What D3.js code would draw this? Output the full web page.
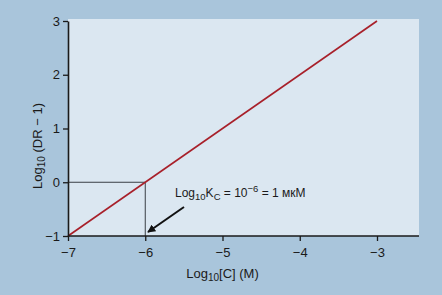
<!DOCTYPE html>
<html>
<head>
<meta charset="utf-8">
<script src="https://cdn.jsdelivr.net/npm/d3@7"></script>
<style>
  body { margin: 0; background: #a9c5db; }
  svg { display: block; }
  text { font-family: "Liberation Sans Narrow", "Liberation Sans", Arial, sans-serif; fill: #1a1a1a; }
</style>
</head>
<body>
<div id="chart"></div>
<script>
// log10 concentration vs log10(DR - 1), Schild plot
const logConc = [-7, -3];
const logDR = [-1, 3];
const xTicks = [-7, -6, -5, -4, -3];
const yTicks = [-1, 0, 1, 2, 3];
const kcPoint = [-6, 0];

const w = 442;
const h = 295;

const xScale = d3.scaleLinear().domain([-7, -3]).range([68, 377]);
const yScale = d3.scaleLinear().domain([-1, 3]).range([236, 21]);

const svg = d3.select("#chart")
  .append("svg")
  .attr("width", w)
  .attr("height", h);

// lighter plot panel
svg.append("rect")
  .attr("x", xScale(-7))
  .attr("y", 19)
  .attr("width", 419 - xScale(-7))
  .attr("height", yScale(-1) - 19)
  .attr("fill", "#dbe7f1");

// guide lines to the Kc point
svg.append("path")
  .attr("d", `M${xScale(-7)},${yScale(kcPoint[1])}H${xScale(kcPoint[0])}V${yScale(-1)}`)
  .attr("fill", "none")
  .attr("stroke", "#3a3f44")
  .attr("stroke-width", 1);

// regression line
const data = logConc.map((c, i) => [c, logDR[i]]);
svg.append("path")
  .datum(data)
  .attr("d", d3.line().x(d => xScale(d[0])).y(d => yScale(d[1])))
  .attr("fill", "none")
  .attr("stroke", "#a8202a")
  .attr("stroke-width", 1.6);

const fmt = d => d < 0 ? "\u2212" + Math.abs(d) : String(d);

const xAxis = d3.axisBottom(xScale).tickValues(xTicks).tickFormat(fmt).tickSize(5).tickSizeOuter(0);
const gx = svg.append("g")
  .attr("transform", `translate(0,${yScale(-1)})`)
  .call(xAxis);
gx.select(".domain").attr("d", `M${xScale(-7)},0H419`).attr("stroke", "#1a1a1a").attr("stroke-width", 1.6);
gx.selectAll(".tick line").attr("stroke", "#1a1a1a").attr("stroke-width", 1.3);
gx.selectAll(".tick text").attr("font-size", 13).attr("dy", "1em");

const yAxis = d3.axisLeft(yScale).tickValues(yTicks).tickFormat(fmt).tickSize(5).tickSizeOuter(0);
const gy = svg.append("g")
  .attr("transform", `translate(${xScale(-7)},0)`)
  .call(yAxis);
gy.select(".domain").attr("stroke", "#1a1a1a").attr("stroke-width", 1.6);
gy.selectAll(".tick line").attr("stroke", "#1a1a1a").attr("stroke-width", 1.3);
gy.selectAll(".tick text").attr("font-size", 13).attr("x", -8);
svg.selectAll(".tick text").attr("font-family", null);

// axis titles
const xt = svg.append("text")
  .attr("x", xScale(-5))
  .attr("y", 278)
  .attr("text-anchor", "middle")
  .attr("font-size", 13);
xt.append("tspan").text("Log");
xt.append("tspan").attr("font-size", 10).attr("dy", 3).text("10");
xt.append("tspan").attr("dy", -3).text("[C] (M)");

const yt = svg.append("text")
  .attr("transform", `translate(42,146) rotate(-90)`)
  .attr("text-anchor", "middle")
  .attr("font-size", 13);
yt.append("tspan").text("Log");
yt.append("tspan").attr("font-size", 10).attr("dy", 3).text("10");
yt.append("tspan").attr("dy", -3).text(" (DR \u2212 1)");

// annotation
const ann = svg.append("text")
  .attr("x", 175)
  .attr("y", 197)
  .attr("font-size", 12);
ann.append("tspan").text("Log");
ann.append("tspan").attr("font-size", 9.5).attr("dy", 3).text("10");
ann.append("tspan").attr("dy", -3).text("K");
ann.append("tspan").attr("font-size", 9.5).attr("dy", 3).text("C");
ann.append("tspan").attr("dy", -3).text(" = 10");
ann.append("tspan").attr("font-size", 9.5).attr("dy", -5).text("\u22126");
ann.append("tspan").attr("dy", 5).text(" = 1 \u043c\u043a\u041c");

svg.append("defs").append("marker")
  .attr("id", "arrow")
  .attr("viewBox", "0 0 10 10")
  .attr("refX", 9)
  .attr("refY", 5)
  .attr("markerWidth", 4)
  .attr("markerHeight", 4)
  .attr("orient", "auto")
  .append("path")
  .attr("d", "M0,0L10,5L0,10z")
  .attr("fill", "#111");

svg.append("line")
  .attr("x1", 184).attr("y1", 207)
  .attr("x2", 148).attr("y2", 232)
  .attr("stroke", "#111")
  .attr("stroke-width", 2)
  .attr("marker-end", "url(#arrow)");
</script>
</body>
</html>
